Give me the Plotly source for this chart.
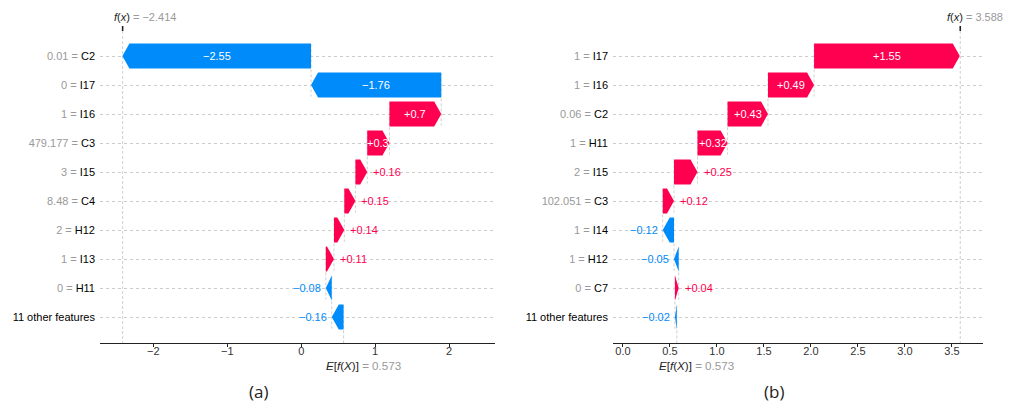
import plotly.graph_objects as go

# painel (a)
nomes_a = ["C2", "I17", "I16", "C3", "I15", "C4", "H12", "I13", "H11", "11 other features"]
valores_a = ["0.01", "0", "1", "479.177", "3", "8.48", "2", "1", "0", ""]
shap_a = [-2.55, -1.76, 0.70, 0.30, 0.16, 0.15, 0.14, 0.11, -0.08, -0.16]
fx_a = -2.414

# painel (b)
nomes_b = ["I17", "I16", "C2", "H11", "I15", "C3", "I14", "H12", "C7", "11 other features"]
valores_b = ["1", "1", "0.06", "1", "2", "102.051", "1", "1", "0", ""]
shap_b = [1.55, 0.49, 0.43, 0.32, 0.25, 0.12, -0.12, -0.05, 0.04, -0.02]
fx_b = 3.588

base = 0.573
legendas = ["(a)", "(b)"]

# a pagina tem margem de 8px no body, entao a figura comeca em (8, 8)
OFF = 8
W = 1012 - OFF
H = 405 - OFF
vermelho = "#ff0051"
azul = "#008bfb"
fonte = "Liberation Sans, Arial, sans-serif"
tam = 11


def px_x(p):
    return (p - OFF) / W


def px_y(p):
    return (H - (p - OFF)) / H


paineis = [
    dict(nomes=nomes_a, valores=valores_a, shap=shap_a, fx=fx_a, px0=100, px1=495,
         rng=[-2.72, 2.62], dtick=1, fmt="d", cap_x=258, fx_shift=-11),
    dict(nomes=nomes_b, valores=valores_b, shap=shap_b, fx=fx_b, px0=613, px1=983,
         rng=[-0.106, 3.83], dtick=0.5, fmt=".1f", cap_x=774, fx_shift=-15),
]

# geometria vertical (pixels da imagem)
y_top_px = 24
y_eixo_px = 343
y_linha0 = 56
passo = 29
y_rng = [9 + (y_eixo_px - (y_linha0 + 9 * passo)) / passo, -(y_linha0 - y_top_px) / passo]
meia = 0.43

fig = go.Figure()
anotacoes = []


def fmt_val(v):
    s = f"{v:+.2f}".rstrip("0").rstrip(".")
    return s.replace("-", "\u2212")


for k, p in enumerate(paineis):
    xa = "x" if k == 0 else "x2"
    ya = "y" if k == 0 else "y2"
    n = len(p["shap"])
    largura = p["rng"][1] - p["rng"][0]
    px_por_un = (p["px1"] - p["px0"]) / largura
    hl = 7 / px_por_un

    # inicio de cada barra (de baixo para cima a partir do valor base)
    inicio = [0.0] * n
    acum = base
    for i in range(n - 1, -1, -1):
        inicio[i] = acum
        acum = acum + p["shap"][i]

    tracejado = dict(color="#bbbbbb", width=0.7, dash="3px,2px")
    # linhas de ligacao
    for i in range(n - 1):
        fig.add_trace(go.Scatter(x=[inicio[i], inicio[i]], y=[i - 0.4, i + 1 + 0.4], mode="lines",
                                 line=tracejado, hoverinfo="skip", showlegend=False, xaxis=xa, yaxis=ya))
    fig.add_trace(go.Scatter(x=[base, base], y=[n - 1 - 0.4, y_rng[0]], mode="lines",
                             line=tracejado, hoverinfo="skip", showlegend=False, xaxis=xa, yaxis=ya))
    fig.add_trace(go.Scatter(x=[p["fx"], p["fx"]], y=[-(y_linha0 - 31) / passo, y_rng[0]], mode="lines",
                             line=tracejado, hoverinfo="skip", showlegend=False, xaxis=xa, yaxis=ya))
    fig.add_trace(go.Scatter(x=[p["fx"], p["fx"]], y=[-(y_linha0 - 26) / passo, -(y_linha0 - 31) / passo],
                             mode="lines", line=dict(color="#222222", width=1.6),
                             hoverinfo="skip", showlegend=False, xaxis=xa, yaxis=ya))

    # setas
    for i in range(n):
        s = inicio[i]
        v = p["shap"][i]
        e = s + v
        h = min(hl, abs(v))
        cor = vermelho if v > 0 else azul
        if v > 0:
            xs = [s, e - h, e, e - h, s, s]
        else:
            xs = [s, e + h, e, e + h, s, s]
        ys = [i - meia, i - meia, i, i + meia, i + meia, i - meia]
        fig.add_trace(go.Scatter(x=xs, y=ys, mode="lines", fill="toself", fillcolor=cor,
                                 line=dict(width=0, color=cor), hoverinfo="skip",
                                 showlegend=False, xaxis=xa, yaxis=ya))
        txt = fmt_val(v)
        if abs(v) * px_por_un >= len(txt) * 5.4:
            anotacoes.append(dict(x=s + v / 2, y=i, xref=xa, yref=ya, text=txt, showarrow=False,
                                  font=dict(color="white", size=tam, family=fonte)))
        else:
            anotacoes.append(dict(x=e, y=i, xref=xa, yref=ya, text=txt, showarrow=False,
                                  xanchor="left" if v > 0 else "right", xshift=4 if v > 0 else -3,
                                  font=dict(color=cor, size=tam, family=fonte)))

    # rotulos do eixo y
    rotulos = []
    for nome, val in zip(p["nomes"], p["valores"]):
        if val == "":
            rotulos.append(nome)
        else:
            rotulos.append(f"<span style='color:#999999'>{val} = </span>{nome}")

    dom_x = [px_x(p["px0"]), px_x(p["px1"])]
    dom_y = [px_y(y_eixo_px), px_y(y_top_px)]
    eixo_x = dict(domain=dom_x, range=p["rng"], dtick=p["dtick"], tickformat=p["fmt"],
                  showgrid=False, zeroline=False, showline=True, linecolor="#222222", linewidth=1.4,
                  ticks="outside", ticklen=3, tickcolor="#222222", ticklabelstandoff=-5,
                  tickfont=dict(size=tam, color="#333333", family=fonte), anchor=ya)
    eixo_y = dict(domain=dom_y, range=y_rng, tickvals=list(range(n)), ticktext=rotulos,
                  showgrid=True, gridcolor="#cccccc", gridwidth=0.7, griddash="3px,3px",
                  zeroline=False, showline=False, ticks="", ticklabelstandoff=4,
                  tickfont=dict(size=tam, color="#000000", family=fonte), anchor=xa)
    if k == 0:
        fig.update_layout(xaxis=eixo_x, yaxis=eixo_y)
    else:
        fig.update_layout(xaxis2=eixo_x, yaxis2=eixo_y)

    fx_txt = f"{p['fx']:.3f}".replace("-", "\u2212")
    anotacoes.append(dict(x=p["fx"], y=px_y(17), xref=xa, yref="paper", xanchor="left", yanchor="middle",
                          xshift=p["fx_shift"],
                          text=f"<i>f</i>(<i>x</i>) <span style='color:#999999'>= {fx_txt}</span>",
                          showarrow=False, font=dict(size=tam, color="#222222", family=fonte)))
    anotacoes.append(dict(x=base, y=px_y(365), xref=xa, yref="paper", xanchor="left", yanchor="middle",
                          xshift=-20,
                          text=f"<i>E</i>[<i>f</i>(<i>X</i>)] <span style='color:#999999'>= {base:.3f}</span>",
                          showarrow=False, font=dict(size=11.6, color="#222222", family=fonte)))
    anotacoes.append(dict(x=px_x(p["cap_x"]), y=px_y(391), xref="paper", yref="paper",
                          xanchor="center", yanchor="middle", text=legendas[k], showarrow=False,
                          font=dict(size=17, color="#222222", family="Open Sans, sans-serif")))

fig.update_layout(
    width=W, height=H,
    margin=dict(l=0, r=0, t=0, b=0),
    paper_bgcolor="white", plot_bgcolor="white",
    annotations=anotacoes,
    showlegend=False,
)
fig.write_html("out.html")
